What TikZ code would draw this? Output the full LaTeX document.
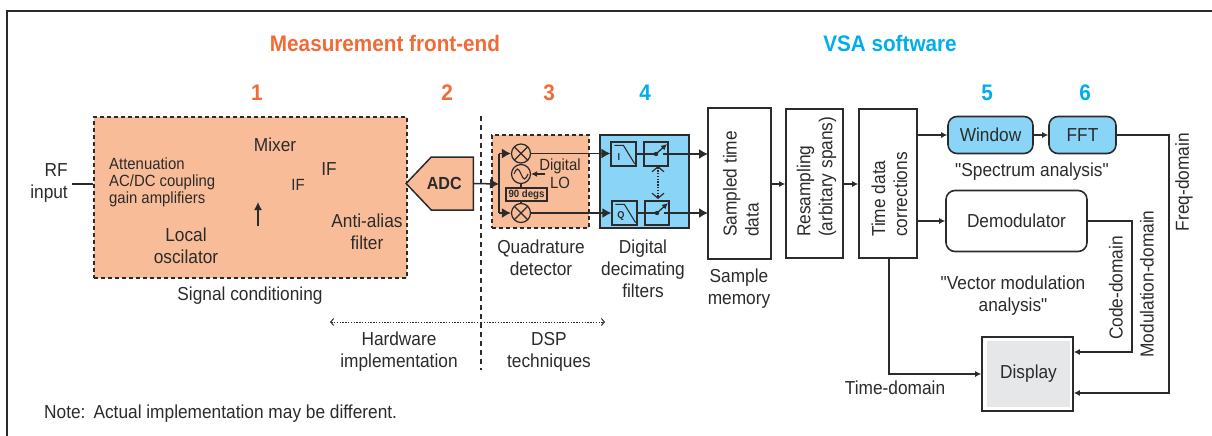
\documentclass[tikz,border=0pt]{standalone}
\usepackage{fontspec}
\setmainfont[FakeStretch=0.92]{Liberation Sans}
\newfontfamily\quotefont[FakeStretch=0.92]{Liberation Sans}
\newcommand{\dq}{{\quotefont"}}
\usepackage{tikz}
\usetikzlibrary{arrows,arrows.meta,shapes,shapes.symbols,positioning}
\definecolor{peach}{HTML}{F9BC98}
\definecolor{skyfill}{HTML}{8AD5F7}
\definecolor{hotorange}{HTML}{F26A36}
\definecolor{vsablue}{HTML}{00AEEF}
\definecolor{inkgray}{HTML}{2B2B2B}
\definecolor{dispgray}{HTML}{E6E7E8}
\tikzset{
  txt/.style = {inner sep=0pt, align=center, text=inkgray, font=\fontsize{18.8}{22}\selectfont},
  smalltxt/.style = {txt, align=left, font=\fontsize{16.2}{17}\selectfont},
  vtxt/.style = {txt, rotate=90, anchor=west, align=left},
  head/.style = {inner sep=0pt, font=\fontsize{22.5}{26}\selectfont\bfseries},
  blockbox/.style = {draw=inkgray, line width=1.6pt, inner sep=0pt},
  softbox/.style = {blockbox, rounded corners=9pt, text=inkgray, font=\fontsize{18.8}{22}\selectfont},
  dashbox/.style = {draw=inkgray, fill=peach, line width=1.5pt, dash pattern=on 4pt off 3pt, inner sep=0pt},
  mixer/.style = {draw=inkgray, line width=1.2pt, circle, minimum size=19pt, inner sep=0pt,
    path picture={\draw[inkgray, line width=1.2pt]
      (path picture bounding box.north west) -- (path picture bounding box.south east)
      (path picture bounding box.north east) -- (path picture bounding box.south west);}},
  sigline/.style = {draw=inkgray, line width=1.5pt},
  sigarrow/.style = {sigline, -{Latex[length=6pt,width=6pt]}},
  bigarrow/.style = {sigline, -{Latex[length=9pt,width=10pt]}},
  tinyarrow/.style = {-{Latex[length=6pt,width=6pt]}},
  minibox/.style = {draw=inkgray, line width=1.2pt, inner sep=0pt},
  barbs/.style = {inkgray, line width=1.2pt, dash pattern=on 1.4pt off 1.4pt},
}
\begin{document}
\begin{tikzpicture}[x=1pt, y=-1pt]
\useasboundingbox (0,0) rectangle (1212,436);
\coordinate (frameA) at (7,436);
\coordinate (frameB) at (7,11);
\coordinate (frameC) at (1212,11);
\draw[inkgray, line width=1.6pt] (frameA) -- (frameB) -- (frameC);

% headings and numbers
\node[head, text=hotorange] (front) at (385,43) {Measurement front-end};
\node[head, text=vsablue] (vsa) at (890,43) {VSA software};
\node[head, text=hotorange] (n1) at (257,93) {1};
\node[head, text=hotorange] (n2) at (447,93) {2};
\node[head, text=hotorange] (n3) at (549,93) {3};
\node[head, text=vsablue] (n4) at (645,93) {4};
\node[head, text=vsablue] (n5) at (987,93) {5};
\node[head, text=vsablue] (n6) at (1085,93) {6};

% signal conditioning
\node[dashbox, minimum width=313pt, minimum height=161pt] (cond) at (250.5,197.5) {};
\node[txt, align=right, anchor=east] (rf) at (68,183) {RF\\input};
\draw[sigline] (rf.east) ++(4,1) coordinate (rfend) -- (rfend -| cond.west);
\node[smalltxt, anchor=west] (atten) at (109,182) {Attenuation\\AC/DC coupling\\gain amplifiers};
\node[txt] (mix) at (275,145) {Mixer};
\node[txt] (ifa) at (329,169) {IF};
\node[txt, font=\fontsize{16.2}{17}\selectfont] (ifb) at (298,185) {IF};
\node[txt] (lo) at (186,246) {Local\\oscilator};
\node[txt] (alias) at (367,232) {Anti-alias\\filter};
\coordinate (upA) at (258,226);
\coordinate (upB) at (258,202);
\draw[bigarrow, line width=1.3pt, -{Latex[length=8pt,width=8pt]}] (upA) -- (upB);
\node[txt] (condlab) at (250,296) {Signal conditioning};

% adc
\node[draw=inkgray, fill=peach, line width=1.5pt, signal, signal to=west, signal from=nowhere,
  signal pointer angle=93, minimum width=42pt, minimum height=53pt, inner sep=0pt, anchor=east,
  font=\fontsize{17.5}{22}\selectfont\bfseries, text=inkgray] (adc) at (474,183.5) {\makebox[42pt][c]{ADC\hspace*{16pt}}};

% divider
\coordinate (divA) at (481,116);
\coordinate (divB) at (481,370);
\draw[inkgray, line width=1.5pt, dash pattern=on 5pt off 4pt] (divA) -- (divB);
\coordinate (hwL) at (330,322);
\coordinate (dspR) at (605,322);
\coordinate (divM) at (481,322);
\draw[barbs, line width=1pt, {Straight Barb[length=3pt,width=7pt]}-] (hwL) -- (divM);
\draw[barbs, line width=1pt, -{Straight Barb[length=3pt,width=7pt]}] (divM) -- (dspR);
\node[txt] (hw) at (399,352) {Hardware\\implementation};
\node[txt] (dsp) at (549,352) {DSP\\techniques};

% quadrature detector
\node[dashbox, minimum width=97pt, minimum height=93pt] (quad) at (540.5,181.5) {};
\node[mixer] (mixI) at (521,153.5) {};
\node[mixer] (mixQ) at (521,213) {};
\node[draw=inkgray, line width=1.2pt, circle, minimum size=19pt, inner sep=0pt] (osc) at (521,174) {};
\draw[inkgray, line width=1.1pt] ([xshift=-7pt]osc.center) sin ++(3.5,-5) cos ++(3.5,5) sin ++(3.5,5) cos ++(3.5,-5);
\node[minibox, minimum width=41pt, minimum height=13pt, text=inkgray,
  font=\fontsize{10.5}{12}\selectfont\bfseries] (deg) at (526.5,194.5) {90 degs};
\draw[sigline, line width=1.2pt] (mixI) -- (osc);
\draw[sigline, line width=1.2pt] (osc.south) -- (osc.south |- deg.north);
\draw[sigline, line width=1.2pt] (osc.south |- deg.south) -- (mixQ.north);
\node[txt, font=\fontsize{16.2}{18}\selectfont] (digLO) at (560,174) {Digital\\LO};
\coordinate (loin) at (545,174);
\draw[sigline, line width=1.2pt, tinyarrow] (loin) -- (osc.east);
\coordinate (feed) at (499,184);
\draw[bigarrow] (adc.east) -- (feed);
\draw[sigline] (mixI.west -| feed) -- (mixQ.west -| feed);
\draw[bigarrow] (mixI.west -| feed) -- (mixI.west);
\draw[bigarrow] (mixQ.west -| feed) -- (mixQ.west);
\node[txt] (quadlab) at (541,258) {Quadrature\\detector};

% decimating filters
\node[blockbox, fill=skyfill, minimum width=89pt, minimum height=93pt] (filt) at (644.5,181.5) {};
\node[minibox, minimum width=25pt, minimum height=24pt] (fltI) at (623.5,154) {};
\node[minibox, minimum width=25pt, minimum height=24pt] (fltQ) at (624.5,213) {};
\node[font=\fontsize{10}{10}\selectfont\bfseries, text=inkgray, inner sep=0pt] (letI) at (619,157) {I};
\node[font=\fontsize{10}{10}\selectfont\bfseries, text=inkgray, inner sep=0pt] (letQ) at (621,216) {Q};
\draw[inkgray, line width=1.1pt] ([shift={(4,4)}]fltI.north west) -- ++(9,0) -- ([shift={(-2,-3)}]fltI.south east);
\draw[inkgray, line width=1.1pt] ([shift={(4,4)}]fltQ.north west) -- ++(9,0) -- ([shift={(-2,-3)}]fltQ.south east);
\node[minibox, minimum width=24pt, minimum height=24pt] (swI) at (656,154) {};
\node[minibox, minimum width=24pt, minimum height=24pt] (swQ) at (657,213) {};
\draw[bigarrow] (mixI.east) -- (fltI.west |- mixI.east);
\draw[bigarrow] (mixQ.east) -- (fltQ.west);
\fill[inkgray] (swI.center) circle (2.2pt);
\fill[inkgray] (swQ.center) circle (2.2pt);
\draw[inkgray, line width=1.3pt, tinyarrow] (swI.center) -- ++(11,-10);
\draw[inkgray, line width=1.3pt, tinyarrow] (swQ.center) -- ++(11,-10);
\draw[sigline] (fltI.east) -- (swI.center);
\draw[sigline] (fltQ.east) -- (swQ.center);
\coordinate (swgapI) at (658,166);
\coordinate (swgapQ) at (658,199);
\draw[barbs, {Straight Barb[length=5pt,width=12pt]}-{Straight Barb[length=5pt,width=12pt]}] (swgapI) -- (swgapQ);
\node[txt] (filtlab) at (643,269) {Digital\\decimating\\filters};

% vsa blocks
\node[blockbox, minimum width=63pt, minimum height=151pt] (sampled) at (739.5,183.5) {};
\node[vtxt] (sampledtxt) at (741,237) {Sampled time\\data};
\node[txt] (memlab) at (739,289) {Sample\\memory};
\node[blockbox, minimum width=57pt, minimum height=149pt] (resamp) at (814.5,183.5) {};
\node[vtxt] (resamptxt) at (816.5,237) {Resampling\\(arbitary spans)};
\node[blockbox, minimum width=58pt, minimum height=149pt] (corr) at (888,183.5) {};
\node[vtxt] (corrtxt) at (889.5,237) {Time data\\corrections};
\node[softbox, fill=skyfill, minimum width=85pt, minimum height=37pt] (window) at (990.5,135) {Window};
\node[softbox, fill=skyfill, minimum width=67pt, minimum height=37pt] (fft) at (1082.5,135) {FFT};
\node[softbox, minimum width=141pt, minimum height=61pt] (demod) at (1016.5,221) {Demodulator};
\node[txt] (speclab) at (1032,172) {\dq Spectrum analysis\dq};
\node[txt] (veclab) at (1013,296) {\dq Vector modulation\\analysis\dq};
\node[blockbox, minimum width=91pt, minimum height=74pt] (dispframe) at (1027.5,374) {};
\node[fill=dispgray, minimum width=83pt, minimum height=66pt, inner sep=0pt, text=inkgray,
  font=\fontsize{18.8}{22}\selectfont] (display) at (1028.5,374) {Display};

% connectors
\coordinate (bI) at (708,154);
\coordinate (bQ) at (708,213);
\draw[bigarrow] ([xshift=7pt]swI.center) -- (bI);
\draw[bigarrow] ([xshift=7pt]swQ.center) -- (bQ);
\coordinate (mid) at (0,184);
\draw[sigarrow] (sampled.east |- mid) -- (resamp.west |- mid);
\draw[sigarrow] (resamp.east |- mid) -- (corr.west |- mid);
\draw[sigarrow] (corr.east |- window.west) -- (window.west);
\draw[sigarrow] (window.east) -- (fft.west);
\draw[sigarrow] (corr.east |- demod.west) -- (demod.west);
\coordinate (tdTurn) at (889,374);
\draw[sigarrow] (corr.south -| tdTurn) -- (tdTurn) -- (dispframe.west |- tdTurn);
\coordinate (cdTurn) at (1132,352);
\draw[sigarrow] (demod.east) -| (cdTurn) -- (dispframe.east |- cdTurn);
\coordinate (fdTurn) at (1169,393);
\draw[sigarrow] (fft.east) -| (fdTurn) -- (dispframe.east |- fdTurn);

% connector labels
\node[txt, rotate=90] (freq) at (1184,182) {Freq-domain};
\node[txt, rotate=90] (modu) at (1147,284) {Modulation-domain};
\node[txt, rotate=90] (code) at (1116,288) {Code-domain};
\node[txt] (tdom) at (895,388) {Time-domain};
\node[txt, anchor=west] (note) at (44,414) {Note:\hspace{8pt}Actual implementation may be different.};
\end{tikzpicture}
\end{document}
